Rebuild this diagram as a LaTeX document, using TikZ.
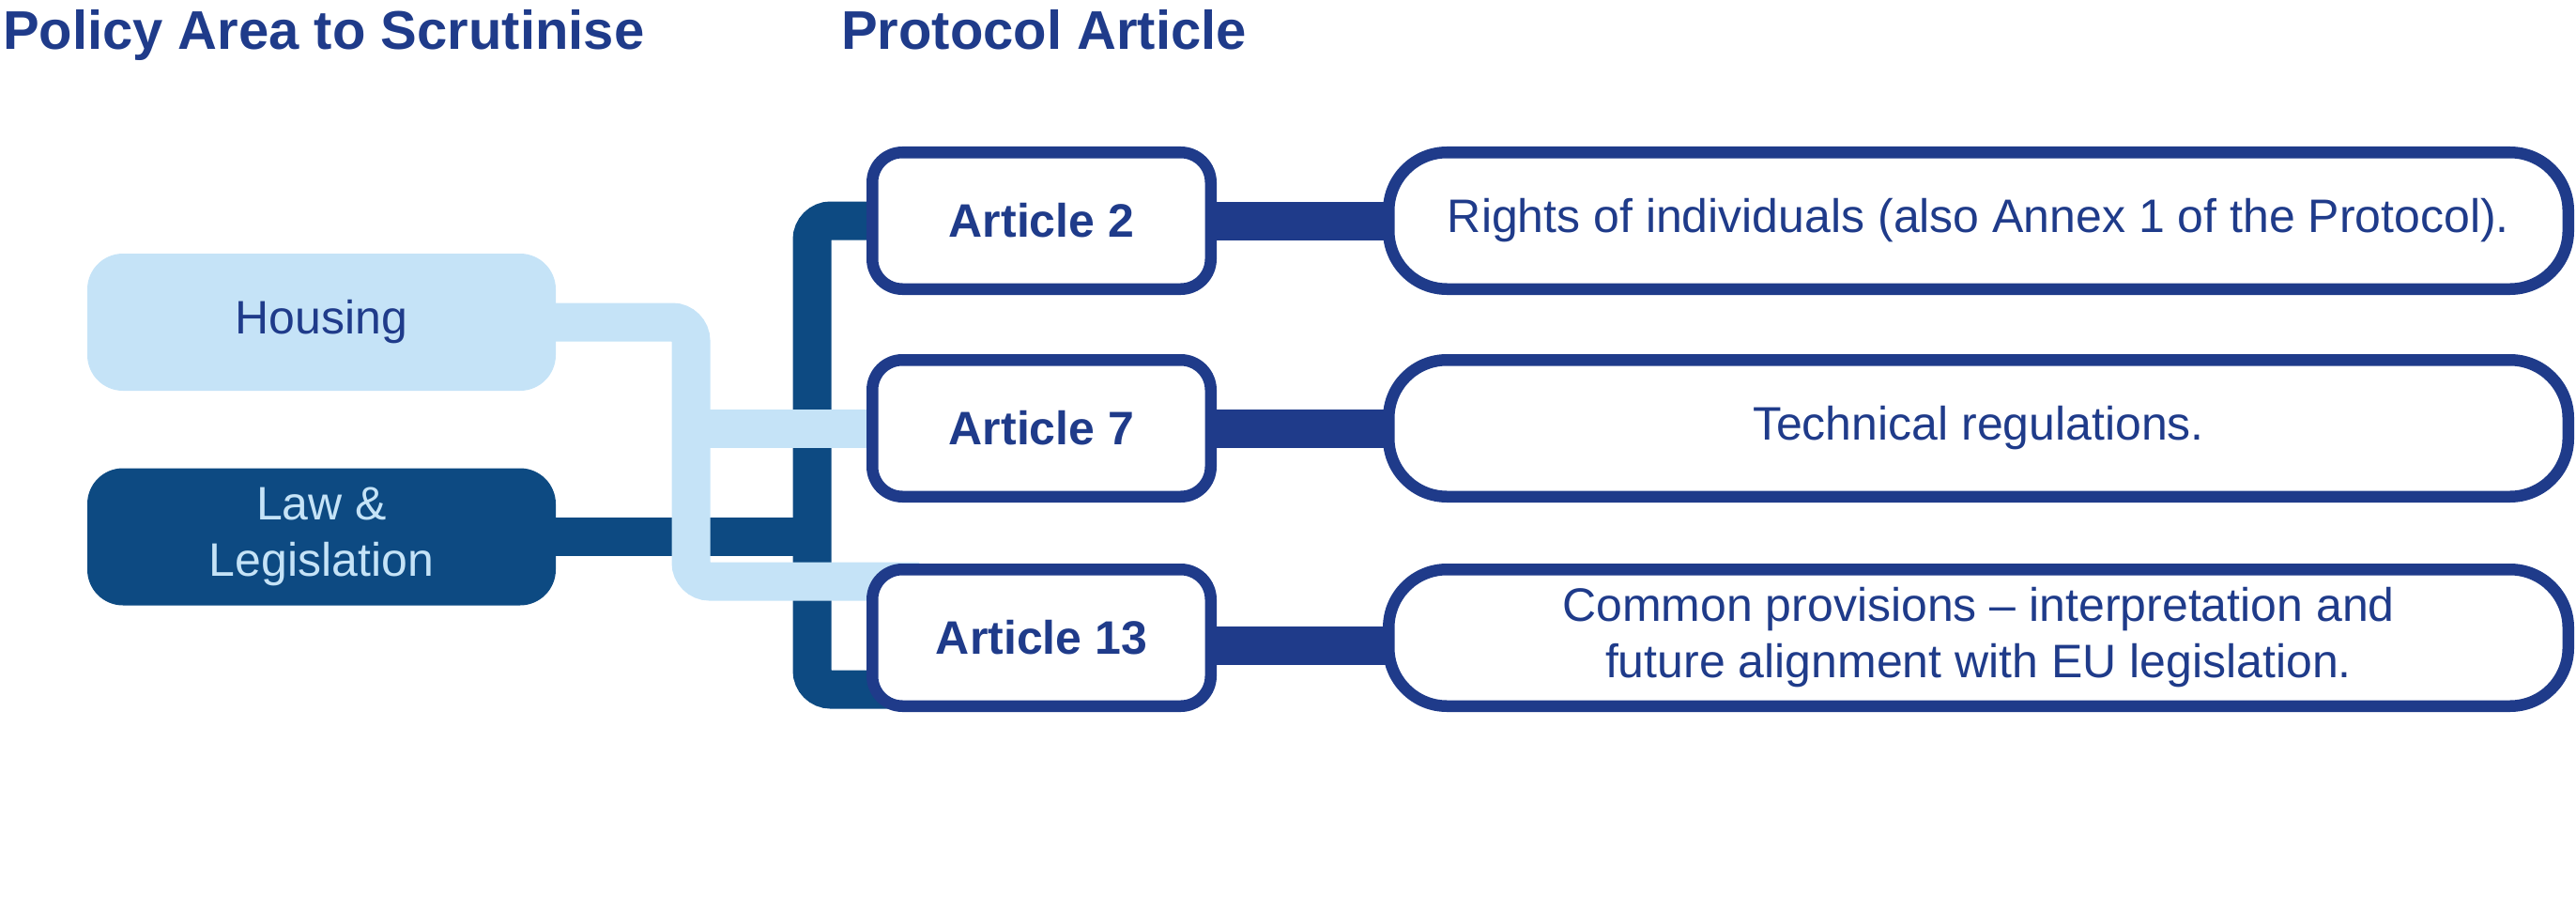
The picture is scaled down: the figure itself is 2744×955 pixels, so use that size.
\documentclass[tikz,border=0pt]{standalone}
\usepackage{fontspec}
\setmainfont{Liberation Sans}
\usetikzlibrary{backgrounds}
\definecolor{navy}{HTML}{1F3B8A}
\definecolor{deep}{HTML}{0D4A82}
\definecolor{pale}{HTML}{C5E3F7}
\begin{document}
\begin{tikzpicture}[x=1pt,y=-1pt,
  every node/.style={font=\fontsize{50}{60}\selectfont, align=center, inner sep=0pt, outer sep=0pt},
  policybox/.style={rectangle, rounded corners=38pt, minimum width=499pt, minimum height=146pt},
  artbox/.style={rectangle, rounded corners=32pt, draw=navy, line width=12.5pt, fill=white,
    minimum width=360.5pt, minimum height=145.5pt, text=navy, font=\fontsize{50}{60}\selectfont\bfseries},
  descbox/.style={rectangle, rounded corners=62pt, draw=navy, line width=12.5pt, fill=white,
    minimum width=1256.5pt, minimum height=145.5pt, text=navy},
  conn/.style={line width=41pt, rounded corners=20pt},
  header/.style={font=\fontsize{58}{69}\selectfont\bfseries, text=navy, anchor=base west}
]
\useasboundingbox (0,0) rectangle (2744,955);

% headers
\node[header] (h1) at (3,52.5) {Policy Area to Scrutinise};
\node[header] (h2) at (896,52.5) {Protocol Article};

% policy areas
\node[policybox, fill=pale, text=navy] (housing) at (342.5,343) {Housing};
\node[policybox, fill=deep, text=pale] (law) at (342.5,571.5) {Law \&\\Legislation};

% articles
\node[artbox] (a2) at (1109.5,235) {Article 2};
\node[artbox] (a7) at (1109.5,456) {Article 7};
\node[artbox] (a13) at (1109.5,679) {Article 13};

% descriptions
\node[descbox] (d2) at (2107.5,235) {Rights of individuals (also Annex 1 of the Protocol).};
\node[descbox] (d7) at (2107.5,456) {Technical regulations.};
\node[descbox] (d13) at (2107.5,679) {Common provisions -- interpretation and\\future alignment with EU legislation.};

\coordinate (dv) at (865,0);
\coordinate (lv) at (736,0);

\begin{pgfonlayer}{background}
  % dark connectors (Law & Legislation)
  \draw[conn, deep] ([xshift=40pt]a2.west) -- (a2.west -| dv)
     -- ([yshift=-55pt]a13.west -| dv) -- ([yshift=-55pt,xshift=40pt]a13.west);
  \draw[conn, deep] (law.east) -- (law.east -| dv);
  % light connectors (Housing)
  \draw[conn, pale] (housing.east) -- (housing.east -| lv)
     -- ([yshift=60pt]a13.west -| lv) -- ([yshift=60pt,xshift=50pt]a13.west);
  \draw[conn, pale] (a7.west -| lv) -- ([xshift=20pt]a7.west);
  % article to description links
  \draw[line width=41pt, navy] (a2.east) -- (d2.west);
  \draw[line width=41pt, navy] (a7.east) -- (d7.west);
  \draw[line width=41pt, navy] ([yshift=-8pt]a13.east) -- ([yshift=-8pt]d13.west);
\end{pgfonlayer}
\end{tikzpicture}
\end{document}
